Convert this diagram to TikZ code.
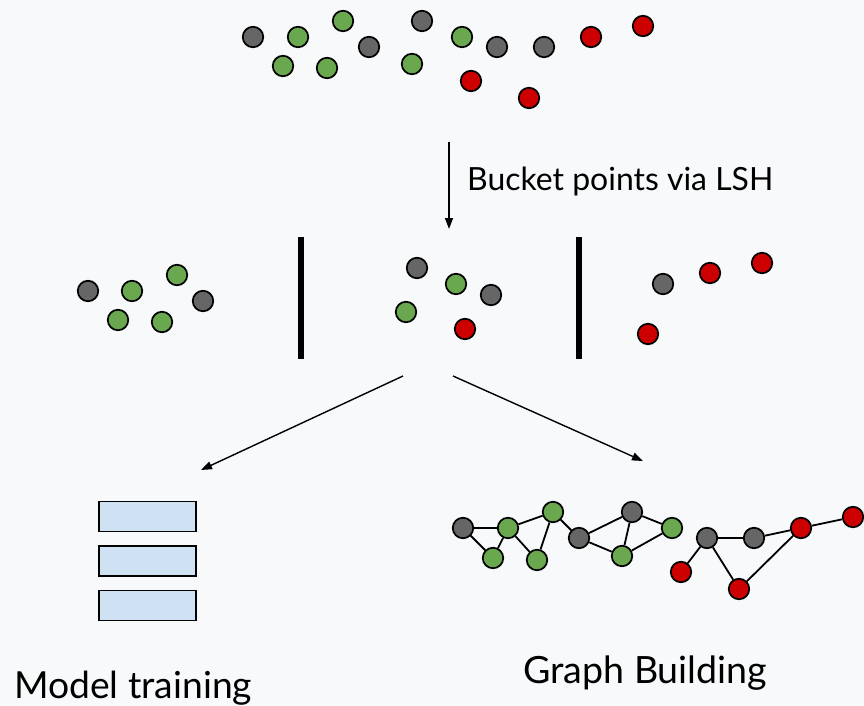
\documentclass[tikz,border=0pt]{standalone}
\usepackage{fontspec}
\setmainfont{Lato}
\usetikzlibrary{arrows.meta}
\definecolor{bg}{HTML}{F8F9FA}
\definecolor{ptgray}{HTML}{666666}
\definecolor{ptgreen}{HTML}{6AA84F}
\definecolor{ptred}{HTML}{CC0000}
\definecolor{boxblue}{HTML}{CFE2F3}
\tikzset{
  pt/.style={circle, draw=black, line width=1.7pt, minimum size=20.5pt, inner sep=0pt},
  pg/.style={pt, fill=ptgray},
  pn/.style={pt, fill=ptgreen},
  pr/.style={pt, fill=ptred},
  bar/.style={line width=6pt},
  flow/.style={line width=1.4pt, -{Triangle[length=11pt,width=8pt]}},
  edge/.style={line width=1.8pt},
  batch/.style={draw=black, line width=1.8pt, fill=boxblue, minimum width=97pt, minimum height=30pt, inner sep=0pt},
  lbl/.style={inner sep=0pt, anchor=base west}
}
\begin{document}
\begin{tikzpicture}[x=1pt, y=-1pt]
\fill[bg] (0,0) rectangle (864,706);
\useasboundingbox (0,0) rectangle (864,706);

% unsorted points
\node[pg] (a1) at (253,37) {};
\node[pn] (a2) at (298,37) {};
\node[pn] (a3) at (343,21) {};
\node[pg] (a4) at (369,47) {};
\node[pn] (a5) at (283,66) {};
\node[pn] (a6) at (327,68) {};
\node[pg] (a7) at (422,21) {};
\node[pn] (a8) at (412,64) {};
\node[pn] (a9) at (462,37) {};
\node[pg] (a10) at (497,47) {};
\node[pg] (a11) at (544,47) {};
\node[pr] (a12) at (591,37) {};
\node[pr] (a13) at (643,26) {};
\node[pr] (a14) at (471,81) {};
\node[pr] (a15) at (529,98) {};

% bucketing arrow and label
\coordinate (bktop) at (449,142);
\coordinate (bkbot) at (449,229);
\draw[flow] (bktop) -- (bkbot);
\node[lbl] (bklabel) at (467,190) {\resizebox{306pt}{!}{Bucket points via LSH}};

% bucket separators
\coordinate (s1t) at (301,237);
\coordinate (s1b) at (301,359);
\coordinate (s2t) at (579,237);
\coordinate (s2b) at (579,359);
\draw[bar] (s1t) -- (s1b);
\draw[bar] (s2t) -- (s2b);

% bucket 1
\node[pg] (b1) at (88,291) {};
\node[pn] (b2) at (132,291) {};
\node[pn] (b3) at (177,275) {};
\node[pg] (b4) at (203,301) {};
\node[pn] (b5) at (118,320) {};
\node[pn] (b6) at (162,322) {};

% bucket 2
\node[pg] (c1) at (417,268) {};
\node[pn] (c2) at (456,284) {};
\node[pg] (c3) at (491,295) {};
\node[pn] (c4) at (406,312) {};
\node[pr] (c5) at (465,329) {};

% bucket 3
\node[pg] (d1) at (663,284) {};
\node[pr] (d2) at (710,273) {};
\node[pr] (d3) at (762,263) {};
\node[pr] (d4) at (648,334) {};

% split arrows
\coordinate (lfrom) at (403,376);
\coordinate (lto) at (201,470);
\coordinate (rfrom) at (453,376);
\coordinate (rto) at (643,461);
\draw[flow] (lfrom) -- (lto);
\draw[flow] (rfrom) -- (rto);

% model training batches
\node[batch] (m1) at (147.5,516.5) {};
\node[batch] (m2) at (147.5,561) {};
\node[batch] (m3) at (147.5,605.5) {};
\node[lbl] (mlabel) at (14,698) {\resizebox{238pt}{!}{Model training}};

% neighbourhood graph
\node[pg] (g1) at (463,528) {};
\node[pn] (g2) at (508,528) {};
\node[pn] (g3) at (553,512) {};
\node[pn] (g4) at (493,558) {};
\node[pn] (g5) at (537,560) {};
\node[pg] (g6) at (579,538) {};
\node[pg] (g7) at (632,512) {};
\node[pn] (g8) at (672,528) {};
\node[pn] (g9) at (622,556) {};
\node[pg] (g10) at (707,538) {};
\node[pg] (g11) at (754,538) {};
\node[pr] (g12) at (801,528) {};
\node[pr] (g13) at (853,517) {};
\node[pr] (g14) at (681,572) {};
\node[pr] (g15) at (739,589) {};
\draw[edge] (g1) -- (g2);
\draw[edge] (g1) -- (g4);
\draw[edge] (g2) -- (g4);
\draw[edge] (g2) -- (g3);
\draw[edge] (g2) -- (g5);
\draw[edge] (g3) -- (g5);
\draw[edge] (g3) -- (g6);
\draw[edge] (g6) -- (g7);
\draw[edge] (g6) -- (g9);
\draw[edge] (g7) -- (g9);
\draw[edge] (g7) -- (g8);
\draw[edge] (g8) -- (g9);
\draw[edge] (g10) -- (g14);
\draw[edge] (g10) -- (g11);
\draw[edge] (g10) -- (g15);
\draw[edge] (g11) -- (g12);
\draw[edge] (g12) -- (g15);
\draw[edge] (g12) -- (g13);
\node[lbl] (glabel) at (523,683) {\resizebox{244pt}{!}{Graph Building}};
\end{tikzpicture}
\end{document}
